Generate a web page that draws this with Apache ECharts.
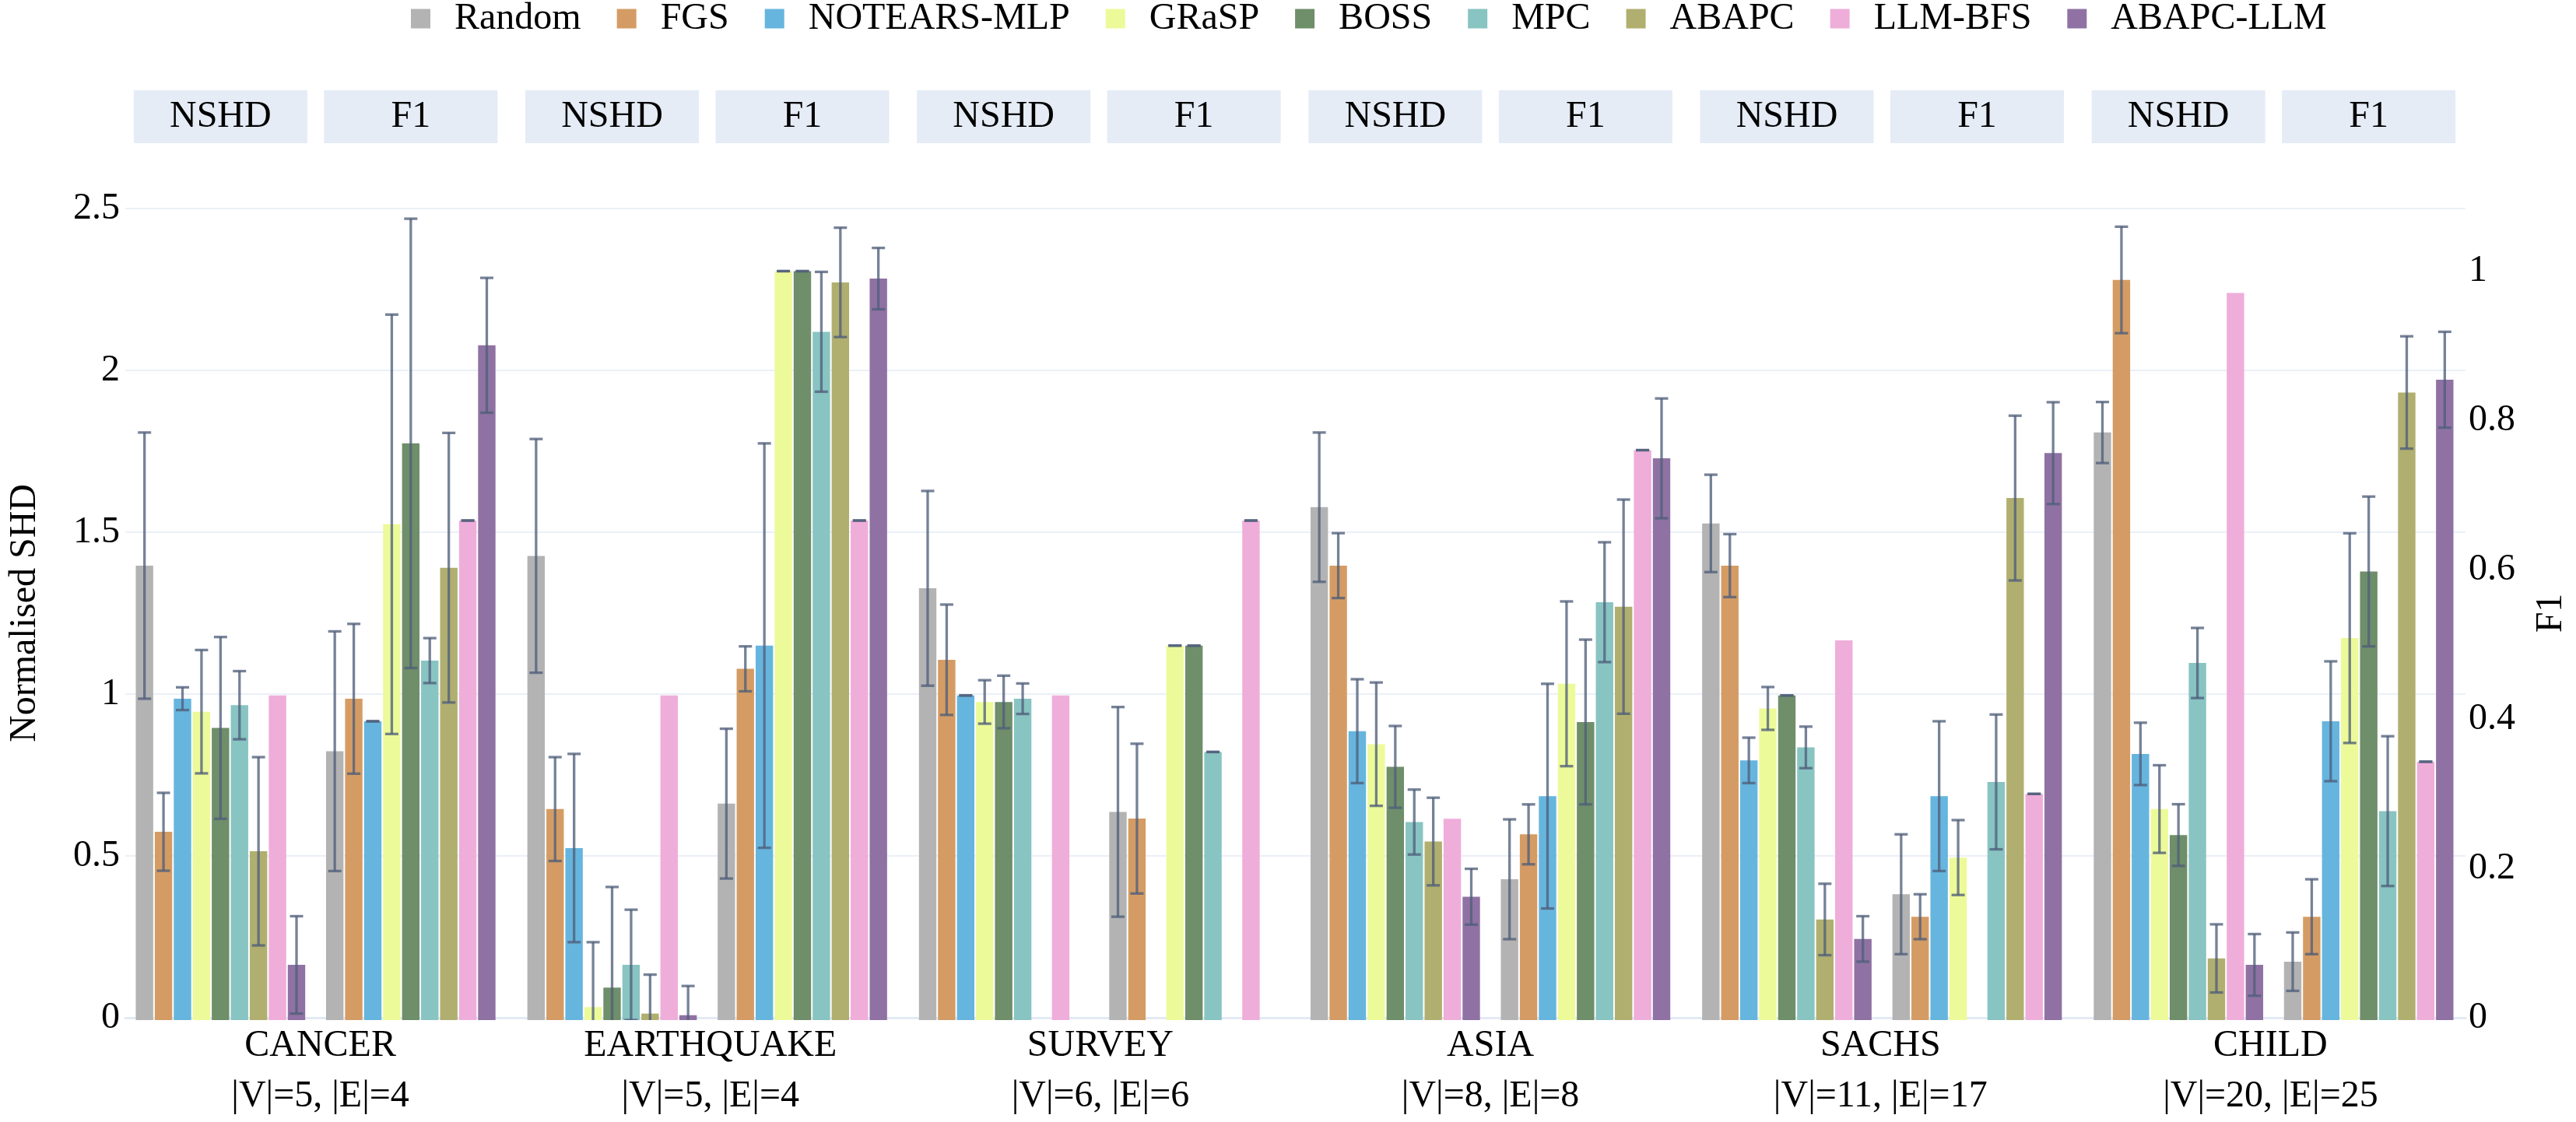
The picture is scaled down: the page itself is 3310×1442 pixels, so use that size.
<!DOCTYPE html>
<html>
<head>
<meta charset="utf-8">
<script src="https://cdn.jsdelivr.net/npm/echarts@6/dist/echarts.min.js"></script>
<style>
html,body{margin:0;padding:0;background:#fff;}
#chart{width:3310px;height:1442px;}
</style>
</head>
<body>
<div id="chart"></div>
<script>
// ---------------- data ----------------
const datasets = ['CANCER', 'EARTHQUAKE', 'SURVEY', 'ASIA', 'SACHS', 'CHILD'];
const datasetSizes = ['|V|=5, |E|=4', '|V|=5, |E|=4', '|V|=6, |E|=6', '|V|=8, |E|=8', '|V|=11, |E|=17', '|V|=20, |E|=25'];
const metrics = ['NSHD', 'F1'];
const methods = ['Random', 'FGS', 'NOTEARS-MLP', 'GRaSP', 'BOSS', 'MPC', 'ABAPC', 'LLM-BFS', 'ABAPC-LLM'];

// Normalised SHD (mean), one row per dataset, one column per method
const nshdMean = [
  [1.40, 0.58, 0.99, 0.95, 0.90, 0.97, 0.52, 1.00, 0.17],
  [1.43, 0.65, 0.53, 0.04, 0.10, 0.17, 0.02, 1.00, 0.015],
  [1.33, 1.11, 1.00, 0.98, 0.98, 0.99, null, 1.00, null],
  [1.58, 1.40, 0.89, 0.85, 0.78, 0.61, 0.55, 0.62, 0.38],
  [1.53, 1.40, 0.80, 0.96, 1.00, 0.84, 0.31, 1.17, 0.25],
  [1.81, 2.28, 0.82, 0.65, 0.57, 1.10, 0.19, 2.24, 0.17]
];
// Normalised SHD (std)
const nshdErr = [
  [0.41, 0.12, 0.035, 0.19, 0.28, 0.105, 0.29, null, 0.15],
  [0.36, 0.16, 0.29, 0.20, 0.31, 0.17, 0.12, null, 0.09],
  [0.30, 0.17, 0, 0.067, 0.081, 0.047, null, null, null],
  [0.23, 0.10, 0.16, 0.19, 0.126, 0.10, 0.135, null, 0.086],
  [0.15, 0.097, 0.07, 0.066, 0, 0.064, 0.11, null, 0.07],
  [0.094, 0.164, 0.096, 0.135, 0.095, 0.108, 0.105, null, 0.095]
];
// F1 (mean)
const f1Mean = [
  [0.359, 0.429, 0.399, 0.662, 0.770, 0.480, 0.604, 0.667, 0.901],
  [0.289, 0.469, 0.500, 1.000, 1.000, 0.919, 0.985, 0.667, 0.990],
  [0.278, 0.269, null, 0.500, 0.500, 0.358, null, 0.667, null],
  [0.188, 0.248, 0.299, 0.449, 0.398, 0.558, 0.552, 0.761, 0.750],
  [0.168, 0.138, 0.299, 0.217, null, 0.318, 0.697, 0.302, 0.757],
  [0.078, 0.138, 0.399, 0.510, 0.599, 0.279, 0.838, 0.345, 0.855]
];
// F1 (std)
const f1Err = [
  [0.16, 0.10, 0, 0.28, 0.30, 0.03, 0.18, 0, 0.09],
  [0.10, 0.03, 0.27, 0, 0, 0.08, 0.073, 0, 0.041],
  [0.14, 0.10, null, 0, 0, 0, null, 0, null],
  [0.08, 0.04, 0.15, 0.11, 0.11, 0.08, 0.143, 0, 0.08],
  [0.08, 0.03, 0.10, 0.05, null, 0.09, 0.11, 0, 0.068],
  [0.039, 0.05, 0.08, 0.14, 0.10, 0.10, 0.075, 0, 0.064]
];
const leftTicks = {min: 0, max: 2.5, interval: 0.5};
const rightTicks = {min: 0, max: 1.0836, interval: 0.2};

// ---------------- style ----------------
const colors = ['#b3b3b3', '#d49c64', '#66b5de', '#edfa9a', '#6f8e6a', '#88c4c2', '#b0af70', '#efadda', '#8f72a3'];
const FONT = 'Liberation Serif';
const FS = 48;
const PLOT_LEFT = 154, PLOT_RIGHT = 3173, PLOT_TOP = 268, PLOT_BOTTOM = 1311;
const SUB_W = 489;
const BAR_W = 22.4, BAR_GAP = 0.09;
const ERR_COLOR = 'rgba(80,95,122,0.78)';
const ERR_WIDTH = 3.3;
const CAP_HALF = 8.5;

const W = 3310, H = 1442;
const chart = echarts.init(document.getElementById('chart'), null, {renderer: 'canvas', width: W, height: H});

const grids = [], xAxes = [], yAxes = [], series = [];
const catW = (PLOT_RIGHT - PLOT_LEFT) / datasets.length;

// background grid: gridlines, visible axes, dataset labels
grids.push({left: PLOT_LEFT, width: PLOT_RIGHT - PLOT_LEFT, top: PLOT_TOP, height: PLOT_BOTTOM - PLOT_TOP});
xAxes.push({
  gridIndex: 0, type: 'category', data: datasets,
  axisLine: {show: true, lineStyle: {color: '#e4eaf4', width: 3}},
  axisTick: {show: false},
  axisLabel: {
    interval: 0, margin: 4, fontFamily: FONT, fontSize: FS, color: '#000', lineHeight: 65,
    formatter: (v, i) => v + '\n' + datasetSizes[i]
  }
});
yAxes.push({
  gridIndex: 0, type: 'value', position: 'left', min: leftTicks.min, max: leftTicks.max, interval: leftTicks.interval,
  name: 'Normalised SHD', nameLocation: 'middle', nameGap: 105, nameRotate: 90,
  nameTextStyle: {fontFamily: FONT, fontSize: FS, color: '#000'},
  axisLine: {show: false}, axisTick: {show: false},
  axisLabel: {margin: 7, fontFamily: FONT, fontSize: FS, color: '#000'},
  splitLine: {show: true, lineStyle: {color: '#ebf0f8', width: 2}}
});
yAxes.push({
  gridIndex: 0, type: 'value', position: 'right', min: rightTicks.min, max: rightTicks.max, interval: rightTicks.interval,
  name: 'F1', nameLocation: 'middle', nameGap: 86, nameRotate: 90,
  nameTextStyle: {fontFamily: FONT, fontSize: FS, color: '#000'},
  axisLine: {show: false}, axisTick: {show: false},
  axisLabel: {margin: 4, fontFamily: FONT, fontSize: FS, color: '#000', showMaxLabel: false},
  splitLine: {show: false}
});

function errRenderer(params, api) {
  const cat = api.value(0), k = api.value(1), lo = api.value(2), hi = api.value(3);
  const pLo = api.coord([cat, lo]);
  const pHi = api.coord([cat, hi]);
  const step = BAR_W * (1 + BAR_GAP);
  const total = methods.length * BAR_W + (methods.length - 1) * BAR_W * BAR_GAP;
  const x = pLo[0] - total / 2 + k * step + BAR_W / 2;
  const style = {stroke: ERR_COLOR, lineWidth: ERR_WIDTH, fill: null};
  return {
    type: 'group',
    children: [
      {type: 'line', shape: {x1: x, y1: pLo[1], x2: x, y2: pHi[1]}, style: style},
      {type: 'line', shape: {x1: x - CAP_HALF, y1: pHi[1], x2: x + CAP_HALF, y2: pHi[1]}, style: style},
      {type: 'line', shape: {x1: x - CAP_HALF, y1: pLo[1], x2: x + CAP_HALF, y2: pLo[1]}, style: style}
    ]
  };
}

datasets.forEach((ds, i) => {
  const g = grids.length;
  grids.push({left: PLOT_LEFT + catW * i + (catW - SUB_W) / 2, width: SUB_W, top: PLOT_TOP, height: PLOT_BOTTOM - PLOT_TOP});
  const xa = xAxes.length;
  xAxes.push({
    gridIndex: g, type: 'category', data: metrics, position: 'top',
    axisLine: {show: false}, axisTick: {show: false},
    axisLabel: {
      interval: 0, margin: 84, fontFamily: FONT, fontSize: FS, color: '#000',
      backgroundColor: '#e5ecf6', width: 223, height: 68, lineHeight: 68, align: 'center'
    }
  });
  const xb = xAxes.length;
  xAxes.push({gridIndex: g, type: 'category', data: metrics, show: false});
  const yl = yAxes.length;
  yAxes.push({gridIndex: g, type: 'value', min: leftTicks.min, max: leftTicks.max, show: false, splitLine: {show: false}});
  const yr = yAxes.length;
  yAxes.push({gridIndex: g, type: 'value', min: rightTicks.min, max: rightTicks.max, show: false, splitLine: {show: false}});

  methods.forEach((m, k) => {
    const vN = nshdMean[i][k], vF = f1Mean[i][k];
    series.push({
      type: 'bar', name: m, xAxisIndex: xa, yAxisIndex: yl,
      barWidth: BAR_W, barGap: (BAR_GAP * 100) + '%',
      itemStyle: {color: colors[k]},
      data: [vN == null ? '-' : vN, '-'], z: 2, animation: false
    });
    series.push({
      type: 'bar', name: m, xAxisIndex: xb, yAxisIndex: yr,
      barWidth: BAR_W, barGap: (BAR_GAP * 100) + '%',
      itemStyle: {color: colors[k]},
      data: ['-', vF == null ? '-' : vF], z: 2, animation: false
    });
  });

  const errN = [], errF = [];
  methods.forEach((m, k) => {
    if (nshdMean[i][k] != null && nshdErr[i][k] != null)
      errN.push([0, k, nshdMean[i][k] - nshdErr[i][k], nshdMean[i][k] + nshdErr[i][k]]);
    if (f1Mean[i][k] != null && f1Err[i][k] != null)
      errF.push([1, k, f1Mean[i][k] - f1Err[i][k], f1Mean[i][k] + f1Err[i][k]]);
  });
  series.push({type: 'custom', name: 'err', xAxisIndex: xa, yAxisIndex: yl, renderItem: errRenderer,
    encode: {x: 0, y: [2, 3]}, data: errN, clip: true, z: 5, silent: true, animation: false});
  series.push({type: 'custom', name: 'err', xAxisIndex: xb, yAxisIndex: yr, renderItem: errRenderer,
    encode: {x: 0, y: [2, 3]}, data: errF, clip: true, z: 5, silent: true, animation: false});
});

chart.setOption({
  backgroundColor: '#ffffff',
  animation: false,
  textStyle: {fontFamily: FONT},
  legend: {
    data: methods, left: 528, top: 0, padding: 0,
    icon: 'rect', itemWidth: 25, itemHeight: 25, itemGap: 46,
    textStyle: {fontFamily: FONT, fontSize: FS, color: '#000', padding: [0, 0, 0, 26]}
  },
  grid: grids,
  xAxis: xAxes,
  yAxis: yAxes,
  series: series
});
</script>
</body>
</html>
